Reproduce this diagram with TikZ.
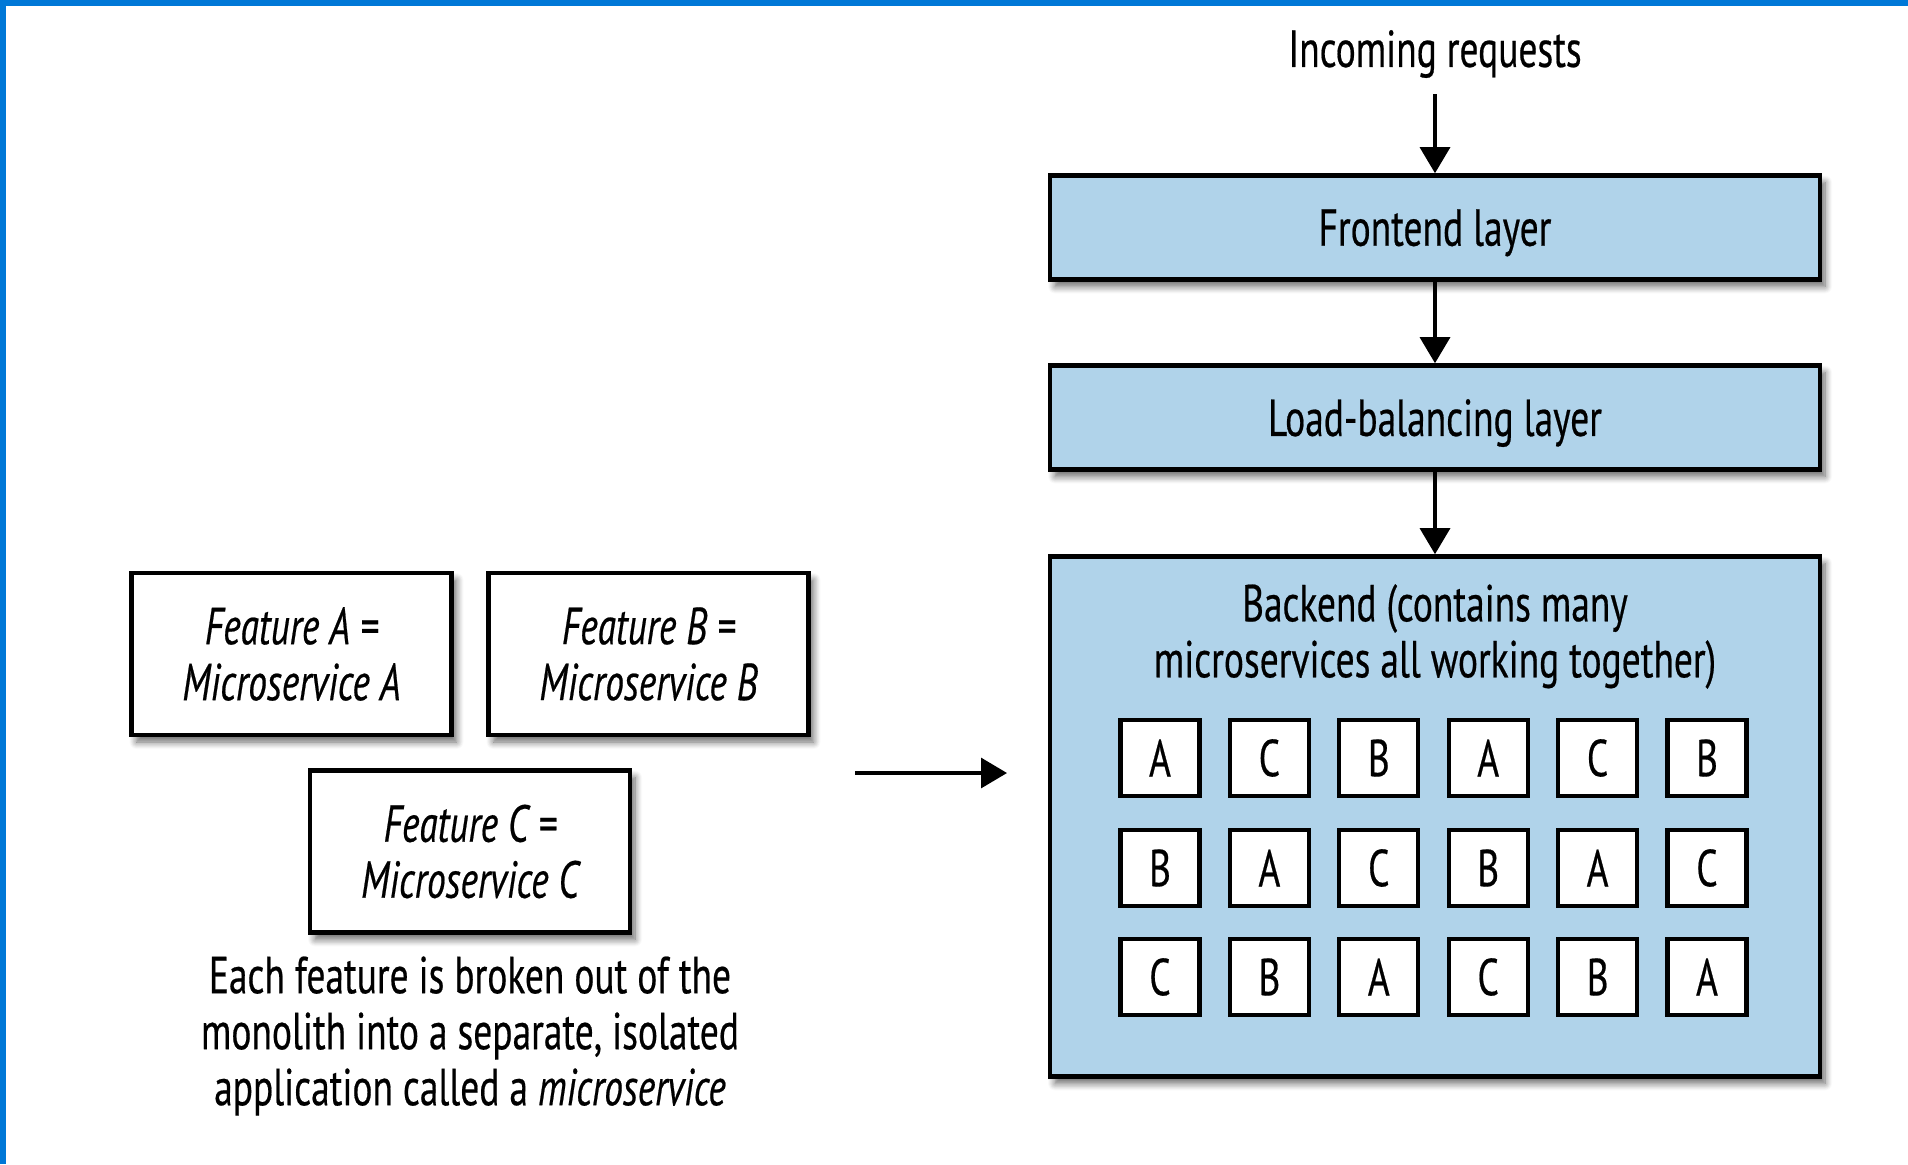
\documentclass[tikz,border=0pt]{standalone}
\usepackage{fontspec}
\setmainfont{PT Sans}[FakeStretch=0.72,FakeBold=0.4]
\usetikzlibrary{arrows.meta,shadows.blur}
\definecolor{layerblue}{HTML}{B0D3EA}
\definecolor{frameblue}{HTML}{0078D7}

\begin{document}
\begin{tikzpicture}[x=0.5pt,y=-0.5pt,
  boxshadow/.style={blur shadow={shadow xshift=2.5pt,shadow yshift=-3.5pt,
      shadow blur steps=8,shadow opacity=60,shadow blur radius=3.5pt}},
  txt/.style={font=\fontsize{26}{28}\selectfont, align=center, inner sep=0pt},
  layer/.style={txt, draw=black, line width=2.3pt, fill=layerblue,
      minimum width=385pt, boxshadow},
  feature/.style={txt, draw=black, line width=2.3pt, fill=white,
      minimum width=160pt, minimum height=81pt, boxshadow,
      font=\fontsize{26}{28}\selectfont\itshape},
  cell/.style={txt, draw=black, line width=2.1pt, fill=white,
      minimum width=39.5pt, minimum height=38pt},
  conn/.style={-{Triangle[length=13pt,width=15pt]}, line width=1.6pt}
]
\useasboundingbox (0,0) rectangle (1908,1164);
% window frame edges
\fill[frameblue] (0,0) rectangle (1908,6);
\fill[frameblue] (0,0) rectangle (6,1164);

% request pipeline
\node[txt] (incoming) at (1435,54) {Incoming requests};
\node[layer, minimum height=52pt, text depth=0pt] (front) at (1435,227.5) {Frontend layer};
\node[layer, minimum height=52pt, text depth=0pt] (lb) at (1435,417.5) {Load-balancing layer};
\node[layer, minimum height=260pt] (back) at (1435,816.5) {};
\node[txt] (backtitle) at (1435,636.5)
  {Backend (contains many\\microservices all working together)};

\draw[conn] ([yshift=-8pt]incoming.south) -- (front.north);
\draw[conn] (front.south) -- (lb.north);
\draw[conn] (lb.south) -- (back.north);

% grid of deployed microservice instances
\foreach \row/\y/\letters in {1/758/{A,C,B,A,C,B}, 2/868/{B,A,C,B,A,C}, 3/977/{C,B,A,C,B,A}}{
  \foreach \l [count=\c] in \letters {
    \node[cell] (cell-\row-\c) at ({1160+109.4*(\c-1)},\y) {\l};
  }
}

% features split out of the monolith
\node[feature] (fa) at (291.5,654) {Feature A =\\Microservice A};
\node[feature] (fb) at (648.5,654) {Feature B =\\Microservice B};
\node[feature] (fc) at (470,851.5) {Feature C =\\Microservice C};
\node[txt] (caption) at (470,1036)
  {Each feature is broken out of the\\monolith into a separate, isolated\\application called a \textit{microservice}};

\coordinate (arrowstart) at (855,773);
\coordinate (arrowend) at (1007,773);
\draw[conn] (arrowstart) -- (arrowend);
\end{tikzpicture}
\end{document}
